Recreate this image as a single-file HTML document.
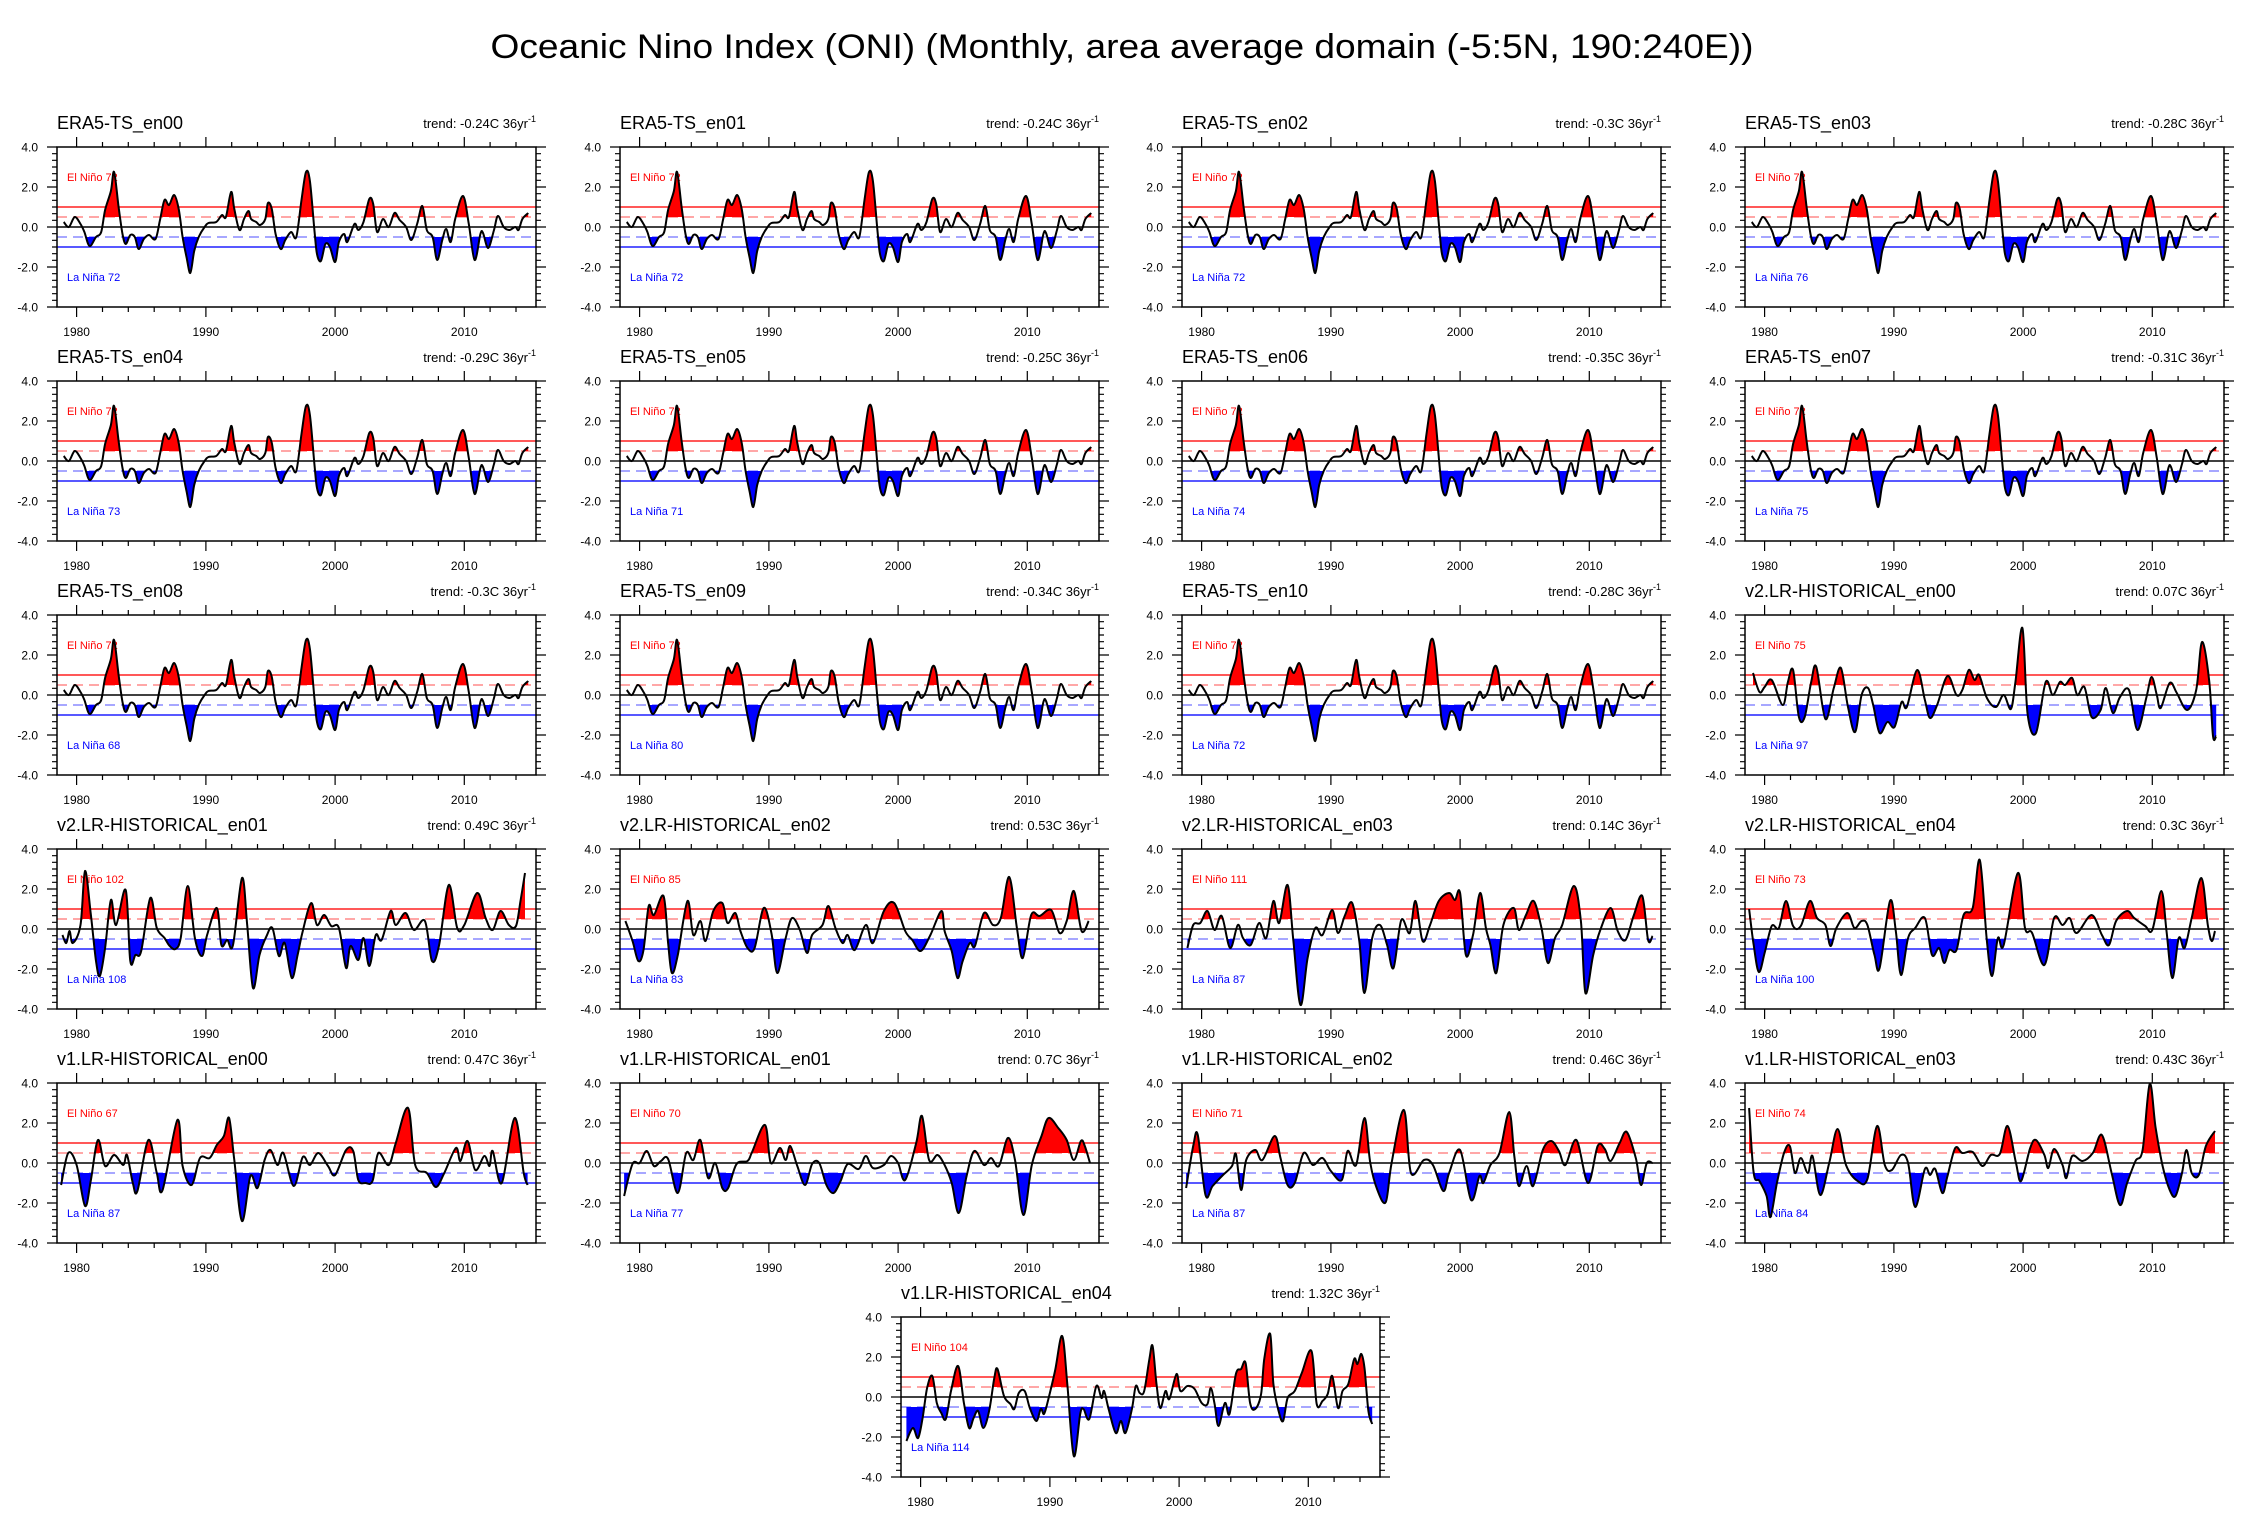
<!DOCTYPE html>
<html><head><meta charset="utf-8"><title>ONI</title>
<style>html,body{margin:0;padding:0;background:#fff}svg{display:block;font-family:"Liberation Sans",Arial,sans-serif}</style>
</head><body>
<svg id="chart" xmlns="http://www.w3.org/2000/svg" width="2250" height="1538" viewBox="0 0 2250 1538">
<rect x="0" y="0" width="2250" height="1538" fill="#fff"/>
<text x="1122" y="58" text-anchor="middle" font-size="34" textLength="1263" lengthAdjust="spacingAndGlyphs">Oceanic Nino Index (ONI) (Monthly, area average domain (-5:5N, 190:240E))</text>
</svg>
<script>
// ---- data (year, ONI value) ----
const era5Years=[1979.0,1979.4,1979.85,1980.3,1980.6,1981.0,1981.5,1981.9,1982.2,1982.65,1982.9,1983.25,1983.55,1983.8,1984.15,1984.5,1984.8,1985.2,1985.6,1986.1,1986.45,1986.8,1987.15,1987.55,1987.9,1988.2,1988.5,1988.8,1989.1,1989.45,1989.9,1990.2,1990.8,1991.25,1991.55,1991.95,1992.2,1992.6,1992.95,1993.3,1993.5,1993.9,1994.2,1994.6,1994.8,1995.1,1995.4,1995.8,1996.15,1996.6,1997.0,1997.4,1997.75,1998.05,1998.4,1998.6,1998.9,1999.25,1999.6,2000.0,2000.3,2000.7,2000.95,2001.5,2001.8,2002.2,2002.65,2002.95,2003.25,2003.7,2004.15,2004.6,2005.0,2005.5,2005.9,2006.35,2006.75,2007.1,2007.55,2007.9,2008.3,2008.6,2008.95,2009.3,2009.9,2010.35,2010.8,2011.25,2011.45,2011.85,2012.3,2012.6,2013.05,2013.5,2013.95,2014.2,2014.5,2014.95];
const era5Values=[0.25,0.0,0.5,0.15,-0.25,-0.95,-0.5,-0.25,0.85,1.8,2.75,1.0,-0.35,-0.85,-0.4,-0.5,-1.1,-0.6,-0.4,-0.6,0.35,1.35,1.1,1.6,0.9,-0.5,-1.5,-2.3,-1.2,-0.5,0.0,0.2,0.25,0.6,0.5,1.75,0.9,-0.15,0.4,0.8,0.4,0.25,0.1,0.4,1.2,0.9,-0.35,-1.1,-0.65,-0.25,-0.5,1.35,2.75,2.3,-0.15,-1.35,-1.7,-0.85,-1.0,-1.75,-0.75,-0.35,-0.75,0.15,-0.15,0.25,1.4,1.15,-0.25,0.4,0.0,0.7,0.35,0.0,-0.65,0.15,1.05,-0.15,-0.5,-1.65,-0.65,-0.1,-0.75,0.4,1.55,0.15,-1.65,-0.35,-0.3,-1.05,-0.15,0.55,0.0,-0.15,0.0,-0.15,0.4,0.7];

const v2e00Years=[1979.1,1979.6,1980.0,1980.55,1981.4,1981.8,1982.2,1982.65,1983.1,1983.6,1984.0,1984.7,1985.35,1985.9,1986.45,1987.0,1987.5,1988.0,1988.4,1988.9,1989.5,1990.05,1990.6,1991.0,1991.8,1992.4,1992.8,1993.35,1994.15,1994.85,1995.3,1995.8,1996.25,1996.6,1997.2,1997.9,1998.5,1999.05,1999.4,1999.95,2000.35,2001.0,2001.75,2002.3,2002.85,2003.25,2003.8,2004.2,2004.75,2005.3,2006.0,2006.4,2006.95,2007.5,2008.2,2008.85,2009.55,2009.95,2010.35,2010.65,2011.35,2011.9,2012.7,2013.4,2013.85,2014.4,2014.7,2014.95];
const v2e00Values=[1.1,0.15,0.4,0.75,-0.5,0.65,1.25,-1.1,-1.1,0.65,1.4,-1.2,0.35,1.35,-0.6,-1.85,0.0,0.35,-0.5,-1.9,-1.35,-1.6,-0.35,-0.6,1.25,-0.25,-1.15,-0.5,0.95,0.0,0.25,1.25,0.75,1.0,-0.15,-0.6,0.0,-0.7,0.6,3.35,-0.95,-1.9,0.65,0.0,0.65,0.5,0.85,0.0,0.4,-1.1,-0.75,0.35,-0.9,-0.1,0.25,-1.75,-0.1,0.9,0.0,-0.65,0.6,0.1,-0.75,0.25,2.65,0.75,-2.05,-2.05];

const v2e01Years=[1978.9,1979.2,1979.45,1979.7,1980.3,1980.65,1981.1,1981.5,1981.8,1982.2,1982.65,1983.05,1983.8,1984.15,1984.55,1985.0,1985.7,1986.2,1986.8,1987.2,1987.65,1988.05,1988.6,1989.15,1989.7,1990.1,1990.85,1991.2,1991.65,1992.1,1992.8,1993.2,1993.65,1994.15,1994.7,1995.15,1995.65,1996.1,1996.65,1997.1,1997.5,1998.15,1998.6,1999.15,1999.7,2000.3,2000.85,2001.2,2001.8,2002.2,2002.65,2003.15,2003.6,2004.3,2004.7,2005.45,2006.1,2006.95,2007.5,2008.05,2008.8,2009.45,2010.0,2011.0,2011.65,2012.2,2012.8,2013.45,2014.0,2014.35,2014.7];
const v2e01Values=[-0.3,-0.7,-0.1,-0.7,0.2,2.9,0.7,-1.6,-2.35,-0.95,1.45,0.2,1.95,-1.6,-1.3,-1.1,1.55,0.05,-0.45,-0.85,-1.0,-0.45,2.15,-0.45,-1.35,-0.3,1.05,-0.8,-0.55,-0.8,2.55,0.2,-2.95,-1.3,-0.35,0.05,-1.35,-0.7,-2.45,-1.3,-0.1,1.3,0.2,0.7,0.15,0.05,-1.95,-0.85,-1.55,-0.45,-1.85,-0.3,-0.55,0.9,0.2,0.8,-0.05,0.4,-1.6,-0.8,2.2,0.05,0.2,1.8,0.55,-0.05,0.9,0.2,0.15,1.4,2.8];

const v2e02Years=[1978.9,1979.45,1979.9,1980.3,1980.7,1981.1,1981.85,1982.2,1982.5,1982.95,1983.7,1984.15,1984.7,1985.1,1985.7,1986.4,1986.8,1987.4,1987.8,1988.35,1988.9,1989.6,1990.2,1990.65,1991.3,1991.8,1992.4,1992.95,1993.35,1994.15,1994.6,1995.15,1995.7,1996.1,1996.65,1997.5,1998.05,1998.9,1999.7,2000.55,2001.1,2001.75,2002.5,2003.35,2003.6,2004.15,2004.6,2005.0,2005.55,2005.95,2006.65,2007.35,2007.95,2008.6,2009.2,2009.65,2010.3,2010.95,2011.85,2012.5,2013.05,2013.6,2014.2,2014.75];
const v2e02Values=[0.4,-0.6,-1.6,-1.05,1.15,0.7,1.65,-0.7,-2.2,-1.3,1.4,-0.3,0.4,-0.6,0.9,1.3,0.3,0.8,-0.1,-0.95,-0.95,1.05,-0.2,-2.2,-0.45,0.55,-0.05,-1.2,-0.3,0.2,1.15,0.05,-0.7,-0.3,-1.05,0.2,-0.7,0.9,1.3,-0.1,-0.55,-1.1,-0.3,0.9,-0.1,-1.1,-2.45,-1.6,-0.7,-0.85,0.8,0.2,0.55,2.6,0.05,-1.45,0.7,0.65,0.95,-0.2,0.4,1.9,-0.1,0.4];

const v2e03Years=[1978.9,1979.35,1979.9,1980.45,1981.0,1981.55,1982.2,1982.8,1983.2,1983.8,1984.45,1985.0,1985.55,1986.0,1986.65,1987.1,1987.65,1988.2,1988.8,1989.35,1990.1,1990.55,1991.1,1991.65,1992.2,1992.6,1993.2,1993.8,1994.35,1994.85,1995.45,1996.1,1996.55,1997.1,1997.65,1998.35,1999.15,1999.6,2000.0,2000.45,2001.0,2001.55,2002.0,2002.35,2002.8,2003.35,2004.15,2004.55,2005.1,2005.7,2006.3,2006.8,2007.35,2007.9,2008.8,2009.35,2009.7,2010.3,2010.85,2011.65,2012.2,2012.8,2013.45,2014.1,2014.55,2014.9];
const v2e03Values=[-0.95,0.2,0.3,0.9,-0.05,0.65,-0.95,0.2,-0.45,-0.8,0.3,-0.45,1.4,0.3,2.2,-0.6,-3.8,-1.45,0.05,-0.3,0.95,-0.2,0.7,1.3,-0.6,-3.2,-0.45,0.2,-0.8,-1.95,0.45,-0.2,1.4,-0.6,0.15,1.4,1.8,1.45,1.8,-1.3,-0.3,1.8,0.05,-0.8,-2.2,0.2,1.05,-0.05,0.7,1.4,0.05,-1.7,-0.45,0.2,2.15,0.4,-3.2,-1.3,-0.05,1.05,-0.1,-0.55,0.7,1.65,-0.55,-0.35];

const v2e04Years=[1978.8,1979.15,1979.55,1980.0,1980.55,1981.1,1981.65,1982.2,1982.8,1983.5,1984.05,1984.7,1985.1,1985.55,1986.4,1986.95,1987.5,1987.95,1988.5,1988.9,1989.7,1990.15,1990.55,1991.1,1991.65,1992.4,1992.95,1993.5,1993.9,1994.3,1994.85,1995.4,1996.1,1996.65,1997.2,1997.6,1998.05,1998.5,1999.6,2000.15,2000.7,2001.65,2002.4,2003.05,2003.6,2004.15,2005.3,2006.1,2006.65,2007.2,2008.05,2008.6,2009.45,2010.0,2010.7,2011.1,2011.55,2012.05,2012.5,2013.05,2013.8,2014.3,2014.6,2014.85];
const v2e04Values=[1.0,-0.8,-2.15,-1.2,0.15,0.05,1.4,0.15,0.15,1.4,0.55,0.2,-0.85,0.05,0.8,0.05,0.4,0.2,-1.3,-1.95,1.4,-0.1,-2.3,-0.45,0.05,0.55,-1.3,-0.95,-1.7,-1.05,-1.05,0.7,1.05,3.45,-0.6,-2.35,-0.45,-0.8,2.8,0.05,-0.2,-1.8,0.55,0.2,0.55,-0.2,0.7,-0.3,-0.8,0.4,0.9,0.55,0.15,-0.05,1.9,-0.1,-2.45,-0.45,-0.95,0.55,2.55,0.2,-0.6,-0.1];

const v1e00Years=[1978.8,1979.35,1980.0,1980.65,1981.1,1981.65,1982.2,1982.9,1983.6,1983.9,1984.35,1984.7,1985.55,1986.2,1986.65,1987.8,1988.2,1988.9,1989.55,1990.3,1990.85,1991.4,1991.8,1992.2,1992.8,1993.45,1994.0,1994.55,1995.0,1995.55,1996.0,1996.8,1997.5,1998.05,1998.7,1999.45,2000.0,2000.85,2001.4,2001.8,2002.35,2002.9,2003.35,2004.15,2004.7,2005.65,2006.2,2007.1,2007.8,2008.45,2009.35,2009.7,2010.25,2010.85,2011.55,2011.95,2012.2,2012.9,2013.9,2014.6,2014.9];
const v1e00Values=[-1.1,0.5,-0.1,-2.15,-0.85,1.15,-0.15,0.4,-0.1,0.4,-1.0,-1.4,1.15,-0.5,-1.35,2.15,-0.15,-1.1,0.25,0.25,0.9,1.35,2.25,0.15,-2.9,-0.65,-1.25,0.15,0.65,-0.1,0.5,-1.15,0.3,-0.1,0.5,-0.15,-0.6,0.65,0.6,-0.85,-1.0,-0.9,0.5,-0.1,1.0,2.75,-0.1,-0.5,-1.2,-0.5,0.75,0.1,1.1,-0.35,0.35,-0.15,0.6,-1.0,2.25,-0.5,-1.1];

const v1e01Years=[1978.8,1979.45,1980.0,1980.55,1981.1,1981.65,1982.2,1982.95,1983.6,1984.15,1984.7,1985.3,1985.85,1986.4,1986.85,1987.5,1988.35,1988.7,1989.7,1990.15,1990.85,1991.3,1991.65,1992.2,1992.8,1993.35,1993.9,1994.45,1995.0,1995.55,1996.1,1996.95,1997.5,1998.05,1998.9,1999.45,2000.0,2000.55,2001.4,2001.85,2002.4,2003.05,2003.6,2004.15,2004.7,2005.3,2005.9,2006.65,2007.2,2007.8,2008.5,2009.05,2009.7,2010.35,2011.1,2011.65,2012.4,2013.05,2013.6,2014.15,2014.45,2014.85];
const v1e01Values=[-1.65,-0.05,0.0,0.6,-0.15,0.1,0.2,-1.5,0.5,0.15,1.15,-0.75,0.0,-1.25,-1.25,-0.05,0.1,0.55,1.9,0.0,0.75,0.15,0.85,-0.15,-1.1,-0.05,0.0,-1.1,-1.5,-0.9,-0.05,-0.3,0.35,-0.25,-0.1,0.35,0.0,-0.85,1.0,2.35,0.15,0.4,-0.1,-1.0,-2.5,-0.65,0.6,-0.1,0.25,-0.15,1.25,0.15,-2.6,-0.1,1.35,2.25,1.75,1.15,0.15,1.1,0.85,0.0];

const v1e02Years=[1978.8,1979.35,1979.7,1980.3,1980.85,1981.65,1982.35,1982.65,1983.05,1983.45,1984.15,1984.7,1985.65,1986.1,1986.65,1987.2,1987.9,1988.6,1989.35,1990.0,1990.85,1991.3,1991.95,1992.6,1993.05,1993.6,1994.25,1994.7,1995.65,1996.2,1997.2,1997.9,1998.7,1999.15,2000.0,2000.85,2001.5,2001.8,2002.35,2003.05,2003.8,2004.2,2004.55,2005.15,2005.65,2006.4,2007.05,2007.65,2008.15,2009.0,2009.9,2010.65,2011.2,2011.65,2012.35,2012.9,2013.6,2014.0,2014.45,2014.9];
const v1e02Values=[-1.25,0.85,1.4,-1.6,-1.15,-0.6,-0.15,0.45,-1.35,0.15,0.65,0.15,1.35,0.25,-1.1,-1.0,0.5,-0.1,0.25,-0.4,-0.85,0.6,-0.1,2.25,0.0,-1.35,-1.95,0.0,2.65,-0.5,0.15,-0.1,-1.4,-0.5,0.65,-1.85,-0.65,-1.0,-0.1,0.5,2.55,0.35,-1.15,-0.15,-1.15,0.65,1.1,0.6,-0.1,1.15,-1.0,0.85,0.7,0.1,1.0,1.55,0.25,-1.1,0.0,0.0];

const v1e03Years=[1978.8,1979.15,1979.6,1980.15,1980.45,1980.95,1981.5,1981.95,1982.35,1982.8,1983.35,1983.7,1984.3,1985.0,1985.65,1986.3,1987.2,1987.95,1988.7,1989.3,1989.85,1990.55,1991.1,1991.65,1992.4,1992.8,1993.2,1993.75,1994.15,1994.75,1995.3,1996.1,1996.85,1997.5,1998.2,1998.8,1999.45,1999.85,2000.55,2001.0,2001.65,2001.95,2002.4,2003.05,2003.35,2003.8,2004.6,2005.4,2006.1,2006.85,2007.5,2008.05,2008.7,2009.25,2009.8,2010.25,2010.8,2011.35,2011.8,2012.3,2012.65,2013.05,2013.6,2014.15,2014.85];
const v1e03Values=[2.75,-0.5,-0.9,-1.65,-2.7,-1.0,0.5,0.85,-0.5,0.25,-0.5,0.35,-1.6,0.0,1.7,-0.1,-0.9,-0.8,1.85,-0.1,-0.35,0.4,0.0,-2.2,-0.3,-0.6,-0.3,-1.5,-0.65,0.75,0.5,0.55,-0.15,0.4,0.45,1.85,0.0,-0.9,0.75,1.15,0.4,-0.25,0.7,-0.1,-0.75,0.35,0.1,0.5,1.4,-0.5,-2.1,-1.0,0.1,0.65,3.95,1.8,-0.15,-1.35,-1.65,-0.5,0.65,-0.5,-0.6,0.85,1.6];

const v1e04Years=[1978.9,1979.4,1979.8,1980.15,1980.5,1980.9,1981.25,1981.6,1981.95,1982.35,1982.9,1983.35,1983.75,1984.1,1984.45,1984.85,1985.3,1985.7,1985.95,1986.45,1986.95,1987.25,1987.6,1988.05,1988.45,1988.95,1989.3,1989.55,1989.85,1990.4,1990.95,1991.35,1991.85,1992.35,1992.6,1993.05,1993.6,1994.0,1994.2,1994.55,1995.1,1995.5,1995.85,1996.35,1996.65,1996.95,1997.3,1997.7,1997.95,1998.25,1998.55,1998.95,1999.25,1999.8,2000.1,2000.65,2001.2,2001.75,2002.2,2002.45,2002.75,2003.05,2003.55,2003.9,2004.4,2004.8,2005.15,2005.5,2005.9,2006.35,2006.6,2007.05,2007.3,2007.7,2008.05,2008.4,2008.95,2009.5,2010.25,2010.65,2011.1,2011.5,2011.85,2012.3,2012.65,2013.1,2013.55,2013.8,2014.1,2014.35,2014.65,2014.95];
const v1e04Values=[-2.2,-1.55,-2.05,-1.05,0.45,1.05,-0.3,-0.8,-1.1,0.3,1.55,-0.3,-1.55,-1.05,-0.7,-1.55,-0.7,0.95,1.4,0.05,-0.35,-0.6,0.2,0.3,-0.55,-1.2,-0.6,-0.85,-0.2,1.3,3.05,0.65,-2.95,-0.85,-0.6,-1.1,0.55,-0.05,0.3,-0.6,-1.8,-1.2,-1.8,-0.6,0.55,0.2,0.3,1.9,2.55,0.65,-0.55,0.3,-0.1,1.15,0.3,0.55,0.4,-0.3,-0.35,0.45,-0.35,-1.45,-0.3,-0.85,1.15,1.4,1.7,-0.3,-0.6,0.15,1.95,3.15,0.65,-0.7,-1.2,-0.05,0.3,1.2,2.3,-0.35,-0.2,0.15,1.05,-0.55,0.3,0.65,1.9,1.65,2.15,1.45,-0.7,-1.35];

const panelNames=["ERA5-TS_en00","ERA5-TS_en01","ERA5-TS_en02","ERA5-TS_en03","ERA5-TS_en04","ERA5-TS_en05","ERA5-TS_en06","ERA5-TS_en07","ERA5-TS_en08","ERA5-TS_en09","ERA5-TS_en10","v2.LR-HISTORICAL_en00","v2.LR-HISTORICAL_en01","v2.LR-HISTORICAL_en02","v2.LR-HISTORICAL_en03","v2.LR-HISTORICAL_en04","v1.LR-HISTORICAL_en00","v1.LR-HISTORICAL_en01","v1.LR-HISTORICAL_en02","v1.LR-HISTORICAL_en03","v1.LR-HISTORICAL_en04"];
const panelTrends=["-0.24","-0.24","-0.3","-0.28","-0.29","-0.25","-0.35","-0.31","-0.3","-0.34","-0.28","0.07","0.49","0.53","0.14","0.3","0.47","0.7","0.46","0.43","1.32"];
const elNinoCounts=[72,72,72,72,72,72,72,72,72,72,72,75,102,85,111,73,67,70,71,74,104];
const laNinaCounts=[72,72,72,76,73,71,74,75,68,80,72,97,108,83,87,100,87,77,87,84,114];
const seriesYears=[era5Years,era5Years,era5Years,era5Years,era5Years,era5Years,era5Years,era5Years,era5Years,era5Years,era5Years,v2e00Years,v2e01Years,v2e02Years,v2e03Years,v2e04Years,v1e00Years,v1e01Years,v1e02Years,v1e03Years,v1e04Years];
const seriesValues=[era5Values,era5Values,era5Values,era5Values,era5Values,era5Values,era5Values,era5Values,era5Values,era5Values,era5Values,v2e00Values,v2e01Values,v2e02Values,v2e03Values,v2e04Values,v1e00Values,v1e01Values,v1e02Values,v1e03Values,v1e04Values];
const yTickValues=[4,2,0,-2,-4];
const yTickLabels=["4.0","2.0","0.0","-2.0","-4.0"];
const xTickYears=[1980,1990,2000,2010];

// ---- layout ----
const NS="http://www.w3.org/2000/svg";
const svg=document.getElementById('chart');
const PW=479,PH=160,XMIN=1978.48,XMAX=2015.55,YMIN=-4,YMAX=4;
const colX=[57,620,1182,1745];
const rowY=[147,381,615,849,1083,1317];
function mk(tag,attrs,parent){const e=document.createElementNS(NS,tag);for(const k in attrs)e.setAttribute(k,attrs[k]);(parent||svg).appendChild(e);return e;}
function smoothPath(P){
  let d='M'+P[0][0].toFixed(1)+','+P[0][1].toFixed(1);
  for(let k=0;k<P.length-1;k++){
    const p0=P[Math.max(k-1,0)],p1=P[k],p2=P[k+1],p3=P[Math.min(k+2,P.length-1)];
    const c1x=p1[0]+(p2[0]-p0[0])/6,c1y=p1[1]+(p2[1]-p0[1])/6;
    const c2x=p2[0]-(p3[0]-p1[0])/6,c2y=p2[1]-(p3[1]-p1[1])/6;
    d+='C'+c1x.toFixed(1)+','+c1y.toFixed(1)+' '+c2x.toFixed(1)+','+c2y.toFixed(1)+' '+p2[0].toFixed(1)+','+p2[1].toFixed(1);
  }
  return d;
}

function drawPanel(i){
  let bx,by;
  if(i<20){bx=colX[i%4];by=rowY[Math.floor(i/4)];}else{bx=901;by=rowY[5];}
  const sx=t=>bx+(t-XMIN)/(XMAX-XMIN)*PW;
  const sy=v=>by+(YMAX-v)/(YMAX-YMIN)*PH;
  const g=mk('g',{});
  
  

  const title=mk('text',{x:bx,y:by-18,'font-size':18},g);
  title.textContent=panelNames[i];
  
  

  const tr=mk('text',{x:bx+PW,y:by-19,'font-size':13,'text-anchor':'end'},g);
  
  
  const t1=mk('tspan',{},tr);t1.textContent='trend: '+panelTrends[i]+'C 36yr';
  const t2=mk('tspan',{dy:-6,'font-size':9},tr);t2.textContent='-1';

  const refs=[[0.5,'#ff8a8a','10 6'],[1,'#ff2020',''],[0,'#000',''],[-0.5,'#8a8aff','10 6'],[-1,'#2020ff','']];
  refs.forEach(r=>{
    const l=mk('line',{x1:bx,x2:bx+PW,y1:sy(r[0]),y2:sy(r[0]),stroke:r[1],'stroke-width':1.6},g);
    if(r[2])l.setAttribute('stroke-dasharray',r[2]);
    
    
  });

  const el=mk('text',{x:bx+10,y:sy(2.5)+4,'font-size':11,fill:'#ff0000'},g);
  el.textContent='El Niño '+elNinoCounts[i];
  
  
  const la=mk('text',{x:bx+10,y:sy(-2.5)+4,'font-size':11,fill:'#0000ff'},g);
  la.textContent='La Niña '+laNinaCounts[i];
  
  

  const ys=seriesYears[i],vs=seriesValues[i];
  const P=ys.map((t,k)=>[sx(t),sy(vs[k])]);
  const cd=smoothPath(P);
  const x0=sx(ys[0]).toFixed(1),x1=sx(ys[ys.length-1]).toFixed(1);
  const defs=mk('defs',{},g);
  const cr=mk('clipPath',{id:'cr'+i},defs);
  mk('rect',{x:bx,y:by,width:PW,height:sy(0.5)-by},cr);
  const cb=mk('clipPath',{id:'cb'+i},defs);
  mk('rect',{x:bx,y:sy(-0.5),width:PW,height:by+PH-sy(-0.5)},cb);
  const redA=mk('path',{d:cd+'L'+x1+','+sy(0.5)+'L'+x0+','+sy(0.5)+'Z',fill:'#ff0000','clip-path':'url(#cr'+i+')'},g);
  
  
  const bluA=mk('path',{d:cd+'L'+x1+','+sy(-0.5)+'L'+x0+','+sy(-0.5)+'Z',fill:'#0000ff','clip-path':'url(#cb'+i+')'},g);
  
  
  const line=mk('path',{d:cd,fill:'none',stroke:'#000','stroke-width':2,'stroke-linejoin':'round'},g);
  
  

  const box=mk('rect',{x:bx,y:by,width:PW,height:PH,fill:'none',stroke:'#000','stroke-width':1.5},g);
  
  

  let d='';
  for(let v=-4;v<=4.001;v+=1/3){
    const isMaj=Math.abs(v-Math.round(v))<0.01&&Math.round(v)%2===0;
    const L=isMaj?10:5,y=sy(v).toFixed(1);
    d+=`M${bx},${y}h${-L}M${bx+PW},${y}h${L}`;
  }
  for(let yr=1980;yr<=2014;yr+=2){
    const isMaj=yr%10===0,L=isMaj?10:5,x=sx(yr).toFixed(1);
    d+=`M${x},${by}v${-L}M${x},${by+PH}v${L}`;
  }
  const tk=mk('path',{d:d,stroke:'#000','stroke-width':1.2,fill:'none'},g);
  
  

  yTickValues.forEach((v,k)=>{
    const t=mk('text',{x:bx-19,y:sy(v)+4.5,'font-size':12,'text-anchor':'end'},g);
    t.textContent=yTickLabels[k];
    
    
  });
  xTickYears.forEach(yr=>{
    const t=mk('text',{x:sx(yr),y:by+PH+29,'font-size':12,'text-anchor':'middle'},g);
    t.textContent=String(yr);
    
    
  });
}
for(let i=0;i<panelNames.length;i++)drawPanel(i);
</script>
</body></html>
